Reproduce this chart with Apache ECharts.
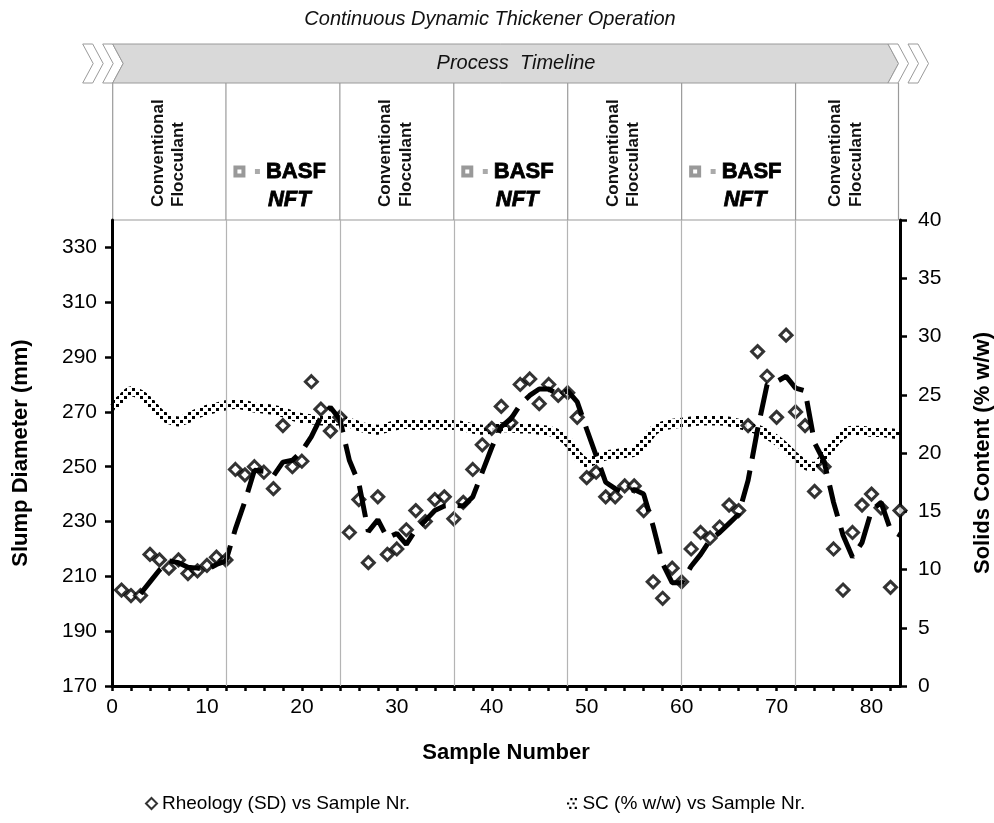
<!DOCTYPE html>
<html>
<head>
<meta charset="utf-8">
<script src="https://cdn.jsdelivr.net/npm/echarts@6/dist/echarts.min.js"></script>
<style>
html,body{margin:0;padding:0;background:#fff;}
#c{width:994px;height:823px;}
</style>
</head>
<body>
<div id="c"></div>
<script>
// ---------------- data ----------------
const sampleNumbers = [1,2,3,4,5,6,7,8,9,10,11,12,13,14,15,16,17,18,19,20,21,22,23,24,25,26,27,28,29,30,31,32,33,34,35,36,37,38,39,40,41,42,43,44,45,46,47,48,49,50,51,52,53,54,55,56,57,58,59,60,61,62,63,64,65,66,67,68,69,70,71,72,73,74,75,76,77,78,79,80,81,82,83];
const rheology = [205,203,203,218,216,213,216,211,212,214,217,216,249,247,250,248,242,265,250,252,281,271,263,268,226,238,215,239,218,220,227,234,230,238,239,231,237,249,258,264,272,266,280,282,273,280,276,277,268,246,248,239,239,243,243,234,208,202,213,208,220,226,224,228,236,234,265,292,283,268,298,270,265,241,250,220,205,226,236,240,235,206,234];
const scSamples = [0,1,2,3,4,5,6,7,8,9,10,11,12,13,14,15,16,17,18,19,20,21,22,23,24,25,26,27,28,29,30,31,32,33,34,35,36,37,38,39,40,41,42,43,44,45,46,47,48,49,50,51,52,53,54,55,56,57,58,59,60,61,62,63,64,65,66,67,68,69,70,71,72,73,74,75,76,77,78,79,80,81,82,83];
const solidsContent = [24.0,24.6,25.3,25.0,24.3,23.4,22.9,22.7,23.0,23.4,23.7,23.9,24.1,24.2,24.1,23.9,23.8,23.7,23.5,23.2,23.0,22.9,22.8,22.8,22.8,22.6,22.3,22.1,22.0,22.2,22.4,22.5,22.4,22.4,22.5,22.4,22.4,22.3,22.1,22.0,22.1,22.2,22.2,22.1,22.1,22.0,21.9,21.6,21.0,19.8,19.2,19.5,19.8,19.9,20.0,20.1,20.8,21.9,22.3,22.5,22.6,22.7,22.8,22.8,22.8,22.7,22.5,22.3,22.0,21.6,21.1,20.4,19.6,19.0,18.8,19.6,20.8,21.6,21.9,21.9,21.8,21.8,21.7,21.6];
const movingAveragePeriod = 3;
const xTickLabels = [0,10,20,30,40,50,60,70,80];
const xTickMarks = [0,2,4,6,8,10,12,14,16,18,20,22,24,26,28,30,32,34,36,38,40,42,44,46,48,50,52,54,56,58,60,62,64,66,68,70,72,74,76,78,80,82];
const leftTickLabels = [170,190,210,230,250,270,290,310,330];
const rightTickLabels = [0,5,10,15,20,25,30,35,40];
const phaseBoundaries = [12,24,36,48,60,72];
const phases = ['conventional','basf','conventional','basf','conventional','basf','conventional'];
const headerTitle = 'Continuous Dynamic Thickener Operation';
const timelineLabel = 'Process  Timeline';
const convLines = ['Conventional','Flocculant'];
const seriesNames = ['Rheology (SD) vs Sample Nr.','SC (% w/w) vs Sample Nr.'];

// ---------------- helpers ----------------
const FONT = '"Liberation Sans", Arial, Helvetica, sans-serif';
const rheoData = sampleNumbers.map((s,i)=>[s, rheology[i]]);
const scData = scSamples.map((s,i)=>[s, solidsContent[i]]);
// Excel-style moving-average trendline (period 3) over the rheology points
const trendData = [];
for (let i = movingAveragePeriod-1; i < rheology.length; i++) {
  let sum = 0;
  for (let k = 0; k < movingAveragePeriod; k++) sum += rheology[i-k];
  trendData.push([sampleNumbers[i], sum/movingAveragePeriod]);
}

function dotPattern(){
  const c = document.createElement('canvas');
  c.width = 8; c.height = 8;
  const g = c.getContext('2d');
  g.fillStyle = '#000';
  g.fillRect(0,0,3,3);
  g.fillRect(4,4,3,3);
  return c;
}
const pattern = {image: dotPattern(), repeat: 'repeat'};

const chart = echarts.init(document.getElementById('c'), null, {renderer:'canvas'});

const axisLineStyle = {color:'#000', width:3};
const legendText = {fontSize:19, color:'#000', fontFamily:FONT};
const option = {
  animation: false,
  backgroundColor: '#fff',
  textStyle: {fontFamily: FONT},
  grid: {left:112, right:94, top:220, bottom:137, containLabel:false, outerBoundsMode:'none'},
  legend: [
    {data:[{name:seriesNames[0]}], left:140, top:789, itemWidth:11, itemHeight:11, itemGap:4, textStyle:legendText},
    {data:[{name:seriesNames[1], icon:'path://M3,0h2v2h-2zM7,0h2v2h-2zM0,4h2v2h-2zM5,4h2v2h-2zM2,8h2v2h-2zM7,8h2v2h-2z', itemStyle:{color:'#000'}}],
     left:562, top:789, itemWidth:11, itemHeight:11, itemGap:4, textStyle:legendText}
  ],
  xAxis: {
    type:'value', min:0, max:83,
    name:'Sample Number', nameLocation:'middle', nameGap:56,
    nameTextStyle:{fontSize:22, fontWeight:'bold', color:'#000', fontFamily:FONT},
    axisLine:{show:true, onZero:false, lineStyle:axisLineStyle},
    axisTick:{show:true, customValues:xTickMarks, length:5, lineStyle:{color:'#000', width:2.5}},
    axisLabel:{customValues:xTickLabels, fontSize:21, color:'#000', margin:11, fontFamily:FONT},
    splitLine:{show:false}
  },
  yAxis: [
    {
      type:'value', min:170, max:340, position:'left',
      name:'Slump Diameter (mm)', nameLocation:'middle', nameGap:80, nameRotate:90,
      nameTextStyle:{fontSize:22, fontWeight:'bold', color:'#000', fontFamily:FONT},
      axisLine:{show:true, onZero:false, lineStyle:axisLineStyle},
      axisTick:{show:true, customValues:leftTickLabels, length:7, lineStyle:{color:'#000', width:2.5}},
      axisLabel:{customValues:leftTickLabels, fontSize:21, color:'#000', margin:15, fontFamily:FONT},
      splitLine:{show:false}
    },
    {
      type:'value', min:0, max:40, position:'right',
      name:'Solids Content (% w/w)', nameLocation:'middle', nameGap:72, nameRotate:90,
      nameTextStyle:{fontSize:22, fontWeight:'bold', color:'#000', fontFamily:FONT},
      axisLine:{show:true, onZero:false, lineStyle:axisLineStyle},
      axisTick:{show:true, customValues:rightTickLabels, length:7, lineStyle:{color:'#000', width:2.5}},
      axisLabel:{customValues:rightTickLabels, fontSize:21, color:'#000', margin:18, fontFamily:FONT},
      splitLine:{show:false}
    }
  ],
  series: [
    {
      name: seriesNames[1], type:'line', yAxisIndex:1, data: scData,
      showSymbol:false, symbol:'none', smooth:0.3, z:2,
      lineStyle:{width:10, color: pattern},
      itemStyle:{color:'#000'}
    },
    {
      name: seriesNames[0], type:'scatter', data: rheoData,
      symbol:'diamond', symbolSize:12, clip:false, z:3,
      itemStyle:{color:'#fff', borderColor:'#000', borderWidth:3},
      markLine:{
        silent:true, symbol:'none', label:{show:false},
        lineStyle:{color:'#b4b4b4', width:1.2, type:'solid'},
        data: phaseBoundaries.map(v=>({xAxis:v}))
      }
    },
    {
      name:'trend', type:'line', data: trendData,
      showSymbol:false, symbol:'none', z:4,
      lineStyle:{width:5, color:'#000', type:[32,12], cap:'butt'}
    }
  ]
};
chart.setOption(option);

// ---------------- header (process timeline) ----------------
const px = v => chart.convertToPixel({xAxisIndex:0}, v);
const xL = px(0) + 0.7;
const xR = px(83) - 1.5;
const yTop = 44, yMid = 63.5, yBand = 83, yBoxBot = 220;
const gray = '#9a9a9a';
const g = [];
g.push({type:'text', x:490, y:19, style:{text:headerTitle, font:'italic 20px ' + FONT, fill:'#111', align:'center', verticalAlign:'middle'}});
function chev(x0){
  return {type:'polygon', shape:{points:[[x0,yTop],[x0+10,yTop],[x0+20.5,yMid],[x0+10,yBand],[x0,yBand],[x0+10.5,yMid]]},
          style:{fill:'#fff', stroke:gray, lineWidth:1}};
}
g.push(chev(xL-30));
g.push(chev(xL-10));
g.push({type:'polygon', shape:{points:[[xL,yTop],[xR-10.5,yTop],[xR,yMid],[xR-10.5,yBand],[xL,yBand],[xL+10.5,yMid]]},
        style:{fill:'#d9d9d9', stroke:gray, lineWidth:1}});
g.push(chev(xR-10.5));
g.push(chev(xR+9.5));
g.push({type:'text', x:516, y:yMid, style:{text:timelineLabel, font:'italic 20px ' + FONT, fill:'#111', align:'center', verticalAlign:'middle'}});

const bounds = [0].concat(phaseBoundaries).concat([83]);
const bx = bounds.map((b,i)=> i===0 ? xL : (i===bounds.length-1 ? xR : px(b)));
bx.forEach(x=>{
  g.push({type:'line', shape:{x1:x, y1:yBand, x2:x, y2:yBoxBot}, style:{stroke:gray, lineWidth:1.2}});
});
g.push({type:'line', shape:{x1:xL, y1:yBoxBot, x2:xR, y2:yBoxBot}, style:{stroke:gray, lineWidth:1.2}});

phases.forEach((p,i)=>{
  const l = bx[i], r = bx[i+1], c = (l+r)/2;
  if (p === 'conventional') {
    g.push({type:'text', x:c-11.5, y:207, rotation:Math.PI/2,
            style:{text:convLines[0], font:'bold 17px ' + FONT, fill:'#111', align:'left', verticalAlign:'middle'}});
    g.push({type:'text', x:c+9, y:207, rotation:Math.PI/2,
            style:{text:convLines[1], font:'bold 17px ' + FONT, fill:'#111', align:'left', verticalAlign:'middle'}});
  } else {
    g.push({type:'rect', shape:{x:l+7.5, y:165.5, width:12, height:12}, style:{fill:'#999'}});
    g.push({type:'rect', shape:{x:l+11.5, y:169.5, width:4, height:4}, style:{fill:'#fff'}});
    g.push({type:'rect', shape:{x:l+29, y:169, width:5, height:5}, style:{fill:'#aaa'}});
    g.push({type:'text', x:l+40, y:172, style:{text:'BASF', font:'bold 22px ' + FONT, fill:'#000', stroke:'#000', lineWidth:0.8, align:'left', verticalAlign:'middle'}});
    g.push({type:'text', x:l+42, y:199.5, style:{text:'NFT', font:'italic bold 22px ' + FONT, fill:'#000', stroke:'#000', lineWidth:0.8, align:'left', verticalAlign:'middle'}});
  }
});
chart.setOption({graphic: g});
</script>
</body>
</html>
